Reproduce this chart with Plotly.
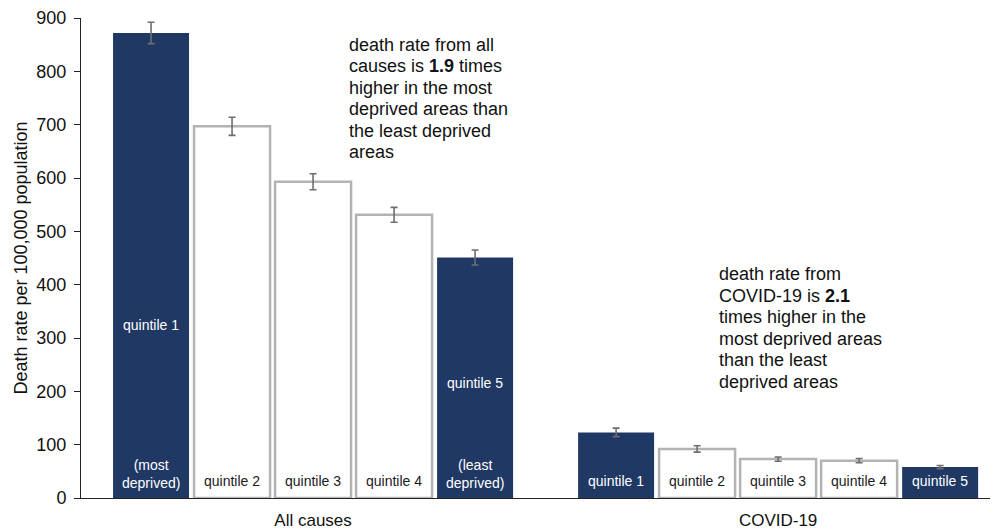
import plotly.graph_objects as go

categories = ["All causes", "COVID-19"]
quintiles = ["quintile 1", "quintile 2", "quintile 3", "quintile 4", "quintile 5"]
all_causes = [872, 697, 593, 531, 451]
covid = [123, 92, 73, 70, 58]
err_all = [20, 17, 15, 14, 14]
err_covid = [8, 6, 4, 4, 3]
labels_all = ["(most<br>deprived)", "quintile 2", "quintile 3", "quintile 4", "(least<br>deprived)"]
labels_covid = ["quintile 1", "quintile 2", "quintile 3", "quintile 4", "quintile 5"]
y_ticks = [0, 100, 200, 300, 400, 500, 600, 700, 800, 900]
note_all = ["death rate from all", "causes is <b>1.9</b> times", "higher in the most",
            "deprived areas than", "the least deprived", "areas"]
note_covid = ["death rate from", "COVID-19 is <b>2.1</b>", "times higher in the",
              "most deprived areas", "than the least", "deprived areas"]

NAVY = "#203864"
GREY = "#B3B3B3"
FONT = "Liberation Sans, Arial, sans-serif"
SLOT = 81  # pixel spacing between bars within a group

fig = go.Figure()
for i, q in enumerate(quintiles):
    filled = i in (0, 4)
    fig.add_trace(go.Bar(
        name=q,
        x=categories,
        y=[all_causes[i], covid[i]],
        error_y=dict(type="data", array=[err_all[i], err_covid[i]],
                     color="#6E6E6E", thickness=1.6, width=3.5),
        marker=dict(color=NAVY if filled else "white",
                    line=dict(color=NAVY if filled else GREY, width=0 if filled else 2.5)),
        hoverinfo="skip",
    ))
    # labels at the foot of each bar
    for c, labels in enumerate((labels_all, labels_covid)):
        two_lines = "<br>" in labels[i]
        fig.add_annotation(x=categories[c], y=0, xref="x", yref="y",
                           xshift=(i - 2) * SLOT, yshift=5 if two_lines else 7,
                           yanchor="bottom", showarrow=False, text=labels[i],
                           font=dict(family=FONT, size=14,
                                     color="white" if filled else "#1a1a1a"))

# mid-bar labels for the all-causes extreme quintiles
fig.add_annotation(x=categories[0], y=324, xref="x", yref="y", xshift=-2 * SLOT,
                   text="quintile 1", showarrow=False,
                   font=dict(family=FONT, size=14, color="white"))
fig.add_annotation(x=categories[0], y=216, xref="x", yref="y", xshift=2 * SLOT,
                   text="quintile 5", showarrow=False,
                   font=dict(family=FONT, size=14, color="white"))

# explanatory notes, one annotation per line for tight Excel-like line spacing
for k, line in enumerate(note_all):
    fig.add_annotation(x=0.2876, y=(498 - (45 + 21.4 * k)) / 480, xref="paper", yref="paper",
                       xanchor="left", yanchor="middle", align="left", showarrow=False,
                       text=line, font=dict(family=FONT, size=18, color="#111111"))
for k, line in enumerate(note_covid):
    fig.add_annotation(x=0.6876, y=(498 - (274 + 21.6 * k)) / 480, xref="paper", yref="paper",
                       xanchor="left", yanchor="middle", align="left", showarrow=False,
                       text=line, font=dict(family=FONT, size=18, color="#111111"))

fig.update_layout(
    width=998, height=531,
    margin=dict(l=73, r=0, t=10, b=41),
    paper_bgcolor="white", plot_bgcolor="white",
    barmode="group", bargap=0.129, bargroupgap=0.062,
    showlegend=False,
    font=dict(family=FONT, size=17, color="#111111"),
    xaxis=dict(range=[-0.499, 1.49], showline=True, linecolor="#222222", linewidth=1,
               showgrid=False, ticks="", tickfont=dict(size=17), zeroline=False,
               automargin=False, ticklabelstandoff=7),
    yaxis=dict(range=[0, 900], tickvals=y_ticks, showline=True, linecolor="#222222",
               linewidth=1, ticks="outside", ticklen=6, tickcolor="#222222",
               showgrid=False, zeroline=False, tickfont=dict(size=18), automargin=False,
               ticklabelstandoff=4,
               title=dict(text="Death rate per 100,000 population", font=dict(size=18),
                          standoff=4)),
)

fig.write_html("out.html")
